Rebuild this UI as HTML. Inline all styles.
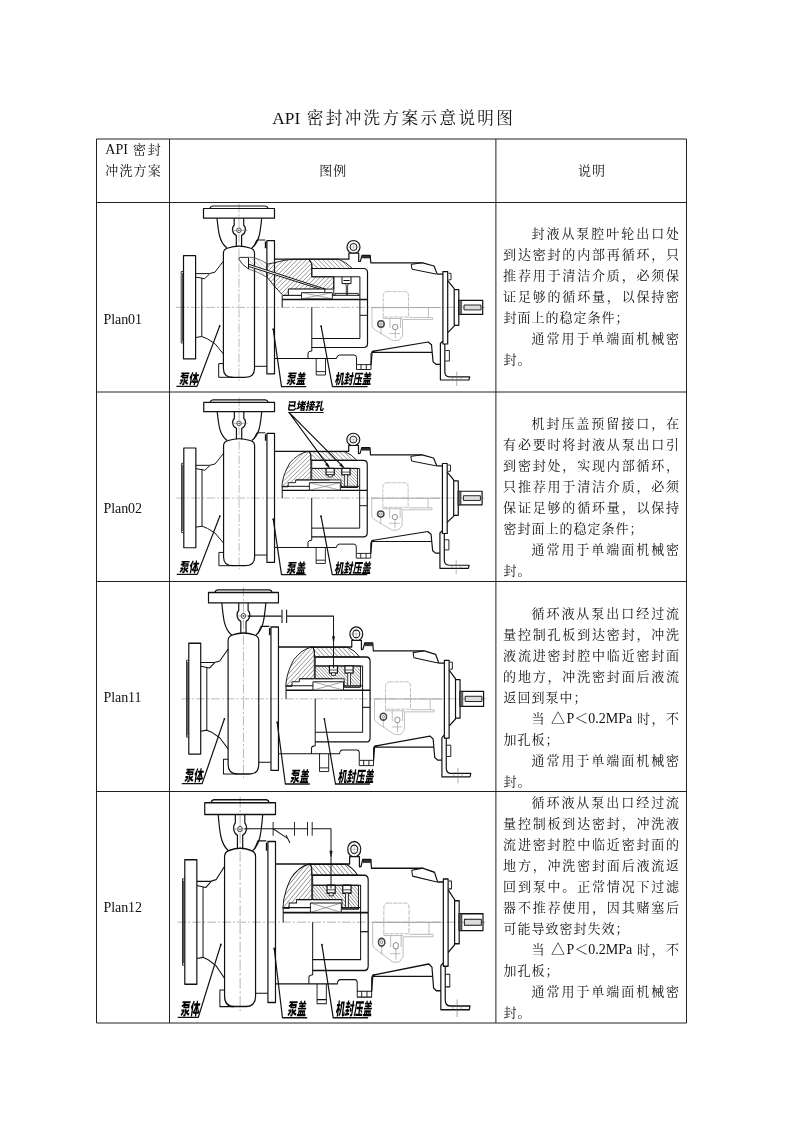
<!DOCTYPE html>
<html lang="zh-CN"><head><meta charset="utf-8"><title>API 密封冲洗方案示意说明图</title>
<style>
html,body{margin:0;padding:0;background:#fff;}
body{width:800px;height:1132px;position:relative;overflow:hidden;font-family:"Liberation Serif","Noto Serif CJK SC",serif;color:#111;}
.l{font-size:14px;}
.t{position:absolute;white-space:nowrap;font-size:13px;line-height:21px;height:21px;font-weight:400;}
.j{text-align:justify;text-align-last:justify;}
.title{position:absolute;left:0;width:800px;text-align:center;font-size:16.6px;line-height:24px;top:107px;white-space:nowrap;}
svg{position:absolute;left:0;top:0;will-change:transform;}
#pg{position:absolute;left:0;top:0;width:800px;height:1132px;will-change:transform;}
.lb{font-family:"Noto Sans CJK SC","WenQuanYi Zen Hei",sans-serif;font-weight:900;font-size:14px;fill:#000;text-rendering:geometricPrecision;}
</style></head>
<body>
<div id="pg">
<div class="title" style="left:272.3px;width:240.6px;text-align-last:justify;"><span style="font-size:17.33px">API</span> 密封冲洗方案示意说明图</div>
<div class="t j" style="left:105.3px;top:139.4px;width:55.5px;"><span class="l">API</span> 密封</div>
<div class="t j" style="left:105.3px;top:160.4px;width:55.5px;">冲洗方案</div>
<div class="t" style="left:319.2px;top:160.4px;letter-spacing:1px;">图例</div>
<div class="t" style="left:578.0px;top:160.4px;letter-spacing:1px;">说明</div>
<div class="t" style="left:103.6px;top:308.7px;letter-spacing:-0.1px;"><span class="l">Plan01</span></div>
<div class="t" style="left:103.6px;top:497.7px;letter-spacing:-0.1px;"><span class="l">Plan02</span></div>
<div class="t" style="left:103.6px;top:687.0px;letter-spacing:-0.1px;"><span class="l">Plan11</span></div>
<div class="t" style="left:103.6px;top:896.8px;letter-spacing:-0.1px;"><span class="l">Plan12</span></div>
<div class="t j" style="left:531.5px;top:223.2px;width:147.6px;">封液从泵腔叶轮出口处</div>
<div class="t j" style="left:503.1px;top:244.2px;width:176.0px;">到达密封的内部再循环，只</div>
<div class="t j" style="left:503.1px;top:265.2px;width:176.0px;">推荐用于清洁介质，必须保</div>
<div class="t j" style="left:503.1px;top:286.2px;width:176.0px;">证足够的循环量，以保持密</div>
<div class="t" style="left:503.4px;top:307.2px;letter-spacing:1px;">封面上的稳定条件；</div>
<div class="t j" style="left:531.5px;top:328.2px;width:147.6px;">通常用于单端面机械密</div>
<div class="t" style="left:503.4px;top:349.2px;letter-spacing:1px;">封。</div>
<div class="t j" style="left:531.5px;top:413.2px;width:147.6px;">机封压盖预留接口，在</div>
<div class="t j" style="left:503.1px;top:434.2px;width:176.0px;">有必要时将封液从泵出口引</div>
<div class="t j" style="left:503.1px;top:455.2px;width:176.0px;">到密封处，实现内部循环，</div>
<div class="t j" style="left:503.1px;top:476.2px;width:176.0px;">只推荐用于清洁介质，必须</div>
<div class="t j" style="left:503.1px;top:497.2px;width:176.0px;">保证足够的循环量，以保持</div>
<div class="t" style="left:503.4px;top:518.2px;letter-spacing:1px;">密封面上的稳定条件；</div>
<div class="t j" style="left:531.5px;top:539.2px;width:147.6px;">通常用于单端面机械密</div>
<div class="t" style="left:503.4px;top:560.2px;letter-spacing:1px;">封。</div>
<div class="t j" style="left:531.5px;top:603.2px;width:147.6px;">循环液从泵出口经过流</div>
<div class="t j" style="left:503.1px;top:624.2px;width:176.0px;">量控制孔板到达密封，冲洗</div>
<div class="t j" style="left:503.1px;top:645.2px;width:176.0px;">液流进密封腔中临近密封面</div>
<div class="t j" style="left:503.1px;top:666.2px;width:176.0px;">的地方，冲洗密封面后液流</div>
<div class="t" style="left:503.4px;top:687.2px;letter-spacing:1px;">返回到泵中；</div>
<div class="t j" style="left:531.5px;top:708.2px;width:147.6px;">当 <span class="l">△P＜0.2MPa</span> 时，不</div>
<div class="t" style="left:503.4px;top:729.2px;letter-spacing:1px;">加孔板；</div>
<div class="t j" style="left:531.5px;top:750.2px;width:147.6px;">通常用于单端面机械密</div>
<div class="t" style="left:503.4px;top:771.2px;letter-spacing:1px;">封。</div>
<div class="t j" style="left:531.5px;top:791.9px;width:147.6px;">循环液从泵出口经过流</div>
<div class="t j" style="left:503.1px;top:812.9px;width:176.0px;">量控制板到达密封，冲洗液</div>
<div class="t j" style="left:503.1px;top:833.9px;width:176.0px;">流进密封腔中临近密封面的</div>
<div class="t j" style="left:503.1px;top:854.9px;width:176.0px;">地方，冲洗密封面后液流返</div>
<div class="t j" style="left:503.1px;top:875.9px;width:176.0px;">回到泵中。正常情况下过滤</div>
<div class="t j" style="left:503.1px;top:896.9px;width:176.0px;">器不推荐使用，因其赌塞后</div>
<div class="t" style="left:503.4px;top:917.9px;letter-spacing:1px;">可能导致密封失效；</div>
<div class="t j" style="left:531.5px;top:938.9px;width:147.6px;">当 <span class="l">△P＜0.2MPa</span> 时，不</div>
<div class="t" style="left:503.4px;top:959.9px;letter-spacing:1px;">加孔板；</div>
<div class="t j" style="left:531.5px;top:980.9px;width:147.6px;">通常用于单端面机械密</div>
<div class="t" style="left:503.4px;top:1001.9px;letter-spacing:1px;">封。</div>
</div>
<svg width="800" height="1132" viewBox="0 0 800 1132">
<path d="M96.50,139.00 H686.50 M96.50,202.50 H686.50 M96.50,392.00 H686.50 M96.50,581.50 H686.50 M96.50,791.50 H686.50 M96.50,1023.00 H686.50 M96.50,139.00 V1023.00 M169.50,139.00 V1023.00 M495.90,139.00 V1023.00 M686.50,139.00 V1023.00" fill="none" stroke="#222" stroke-width="1"/>
<g transform="matrix(1.0000,0,0,1.0000,0.00,0.00)" stroke-linejoin="round" stroke-linecap="butt">
<path d="M176,307.4 H486" fill="none" stroke="#777" stroke-width="0.50" stroke-dasharray="9 2 2 2"/>
<path d="M239,203.5 V381" fill="none" stroke="#777" stroke-width="0.50" stroke-dasharray="9 2 2 2"/>
<path d="M203.5,208.5 H274.5 V218.2 H203.5 Z M209.8,208.5 Q210.4,206.3 212.6,206 H265.4 Q267.6,206.3 268.2,208.5" fill="none" stroke="#111" stroke-width="1.20" />
<path d="M217,218.2 C217.8,226 218.6,232 219.6,236 C221,241.5 223,245 227,248 M261.7,218.2 C260.9,226 260.1,232 259.1,236 C257.7,241.5 255.7,245 251.7,248" fill="none" stroke="#111" stroke-width="1.20" />
<path d="M234.2,218.2 V225.2 C231.6,227.3 231.8,233.5 236.3,235.4 V246.6 M243.7,218.2 V225.2 C246.3,227.3 246.1,233.5 241.6,235.4 V246.6" fill="none" stroke="#111" stroke-width="1.20" />
<circle cx="238.9" cy="230.3" r="2.3" fill="none" stroke="#222" stroke-width="0.8"/><circle cx="238.9" cy="230.3" r="0.6" fill="#222"/>
<path d="M231.5,230.3 H247.5" fill="none" stroke="#666" stroke-width="0.50" />
<path d="M223.4,253.2 V368.5 Q223.4,377.3 233,377.3 H245 Q254.5,377.3 254.5,368.5 V253.2 Q254.5,249.2 250,248 Q239,244.3 228,248 Q223.4,249.2 223.4,253.2 Z" fill="none" stroke="#111" stroke-width="1.20" />
<path d="M183.5,255.7 H195.6 V358.8 H183.5 Z" fill="none" stroke="#111" stroke-width="1.20" />
<path d="M183.5,271.5 H181.2 V343 H183.5 M182.4,273 V341.5" fill="none" stroke="#111" stroke-width="0.80" />
<path d="M195.6,273.6 H209.4 L214.9,272.2 L223.4,261.2 M195.6,277 L204.6,278.7 L209.6,274 M201.8,278.2 V336.5" fill="none" stroke="#111" stroke-width="1.00" />
<path d="M195.6,337.5 L201.8,336.5 L207.3,338.8 L214.9,343.6 L223.4,354" fill="none" stroke="#111" stroke-width="1.00" />
<path d="M223.4,363.6 H218.7 V377.3 H233" fill="none" stroke="#111" stroke-width="1.00" />
<path d="M253.5,246.8 L256.8,240 H265.3 M254.5,366.3 H266.9" fill="none" stroke="#111" stroke-width="1.00" />
<path d="M265.6,241.5 V248.2" fill="none" stroke="#111" stroke-width="1.60" />
<path d="M266.9,240.6 H274.5 V373.9 H266.9 Z" fill="none" stroke="#111" stroke-width="1.20" />
<circle cx="353.5" cy="247" r="6.5" fill="#fff" stroke="#111" stroke-width="1.2"/>
<circle cx="353.5" cy="247" r="3.5" fill="none" stroke="#111" stroke-width="1.0"/>
<path d="M346.5,247 H360.5 M353.5,240 V254" fill="none" stroke="#888" stroke-width="0.40" />
<path d="M348.9,253.1 H358.7 V259 H348.9 Z" fill="#fff" stroke="none" stroke-width="0.00" />
<path d="M274.5,259.2 H348.9 V253.1 H358.7 V261.5 L360.3,261.3 L362,255.4 H370.2 L370.8,262.8 H422.6 L434,266 L437.2,274.1 H442.9" fill="none" stroke="#111" stroke-width="1.20" />
<path d="M362.3,255.6 H370 V258 H362.3 Z" fill="#333" stroke="#111" stroke-width="0.60" />
<path d="M422.6,262.7 L411.2,264.4 L412,269.2 L436.4,274.1" fill="none" stroke="#111" stroke-width="1.00" />
<path d="M442.9,271.7 H447.7 V344 H442.9 Z" fill="none" stroke="#111" stroke-width="1.20" />
<path d="M448.6,273.3 H451 V279.8 H448.6" fill="none" stroke="#111" stroke-width="0.90" />
<path d="M447.7,280.6 L454.2,288.7 V326.1 L447.7,332.6" fill="none" stroke="#111" stroke-width="1.20" />
<path d="M454.2,289.6 H458.8 V325.3 H454.2" fill="none" stroke="#111" stroke-width="1.20" />
<path d="M458.8,300.4 H482.7 V314.4 H458.8 Z" fill="none" stroke="#111" stroke-width="1.20" />
<path d="M458.8,300.4 H461.6 V314.4 H458.8 Z" fill="#666" stroke="#111" stroke-width="0.50" />
<path d="M464,305 H481 V309.9 H464 Z" fill="#ddd" stroke="#111" stroke-width="0.90" />
<path d="M371,365 L372.2,351.3 L428.2,342 L431.5,344.8 L433.1,361.9 L436,364.3 H440.4 M372.2,352.3 H431.8" fill="none" stroke="#111" stroke-width="1.20" />
<path d="M356.5,364.6 H371 V369.5 H356.5 Z M361,364.6 V369.5 M366.3,364.6 V369.5" fill="none" stroke="#111" stroke-width="0.90" />
<path d="M442.9,341 L440.4,343.5 V380 H468.9 L469.7,376.8 H449.6 Q444.8,376.8 444.8,371.5 V344" fill="none" stroke="#111" stroke-width="1.20" />
<path d="M445.3,350.5 H449.4 V361 H445.3" fill="none" stroke="#111" stroke-width="0.90" />
<path d="M456.7,371.5 V386 M452.5,376.8 V380 M460.9,376.8 V380" fill="none" stroke="#666" stroke-width="0.50" />
<path d="M311.8,268.5 H363.5 Q367.5,268.5 367.5,272.5 V343.5 Q367.5,347.5 363.5,347.5 H311.8" fill="none" stroke="#111" stroke-width="1.20" />
<path d="M311.8,276.8 H359.9 V338.5 H311.8" fill="none" stroke="#111" stroke-width="1.00" />
<path d="M311.8,268.5 V276.8 M311.8,307.4 V351 L309,351.6 L308,353 V358.5" fill="none" stroke="#111" stroke-width="1.00" />
<path d="M359.9,315.3 H367.5" fill="none" stroke="#111" stroke-width="1.00" />
<path d="M274.5,358.5 H336.5 Q337,355 339.5,355 H354 Q356.5,355 356.5,357.5 V364.6 M371,364.6 V353.5 Q371.3,351.5 374.5,350.9" fill="none" stroke="#111" stroke-width="1.00" />
<path d="M316.2,358.5 V375 H325.5 V358.5 M316.2,371.6 H325.5" fill="none" stroke="#111" stroke-width="0.90" />
<path d="M282.2,299.5 H367.5" fill="none" stroke="#111" stroke-width="1.40" />
<path d="M282.9,295.3 H359.9 M282.2,295.3 V307.4" fill="none" stroke="#111" stroke-width="1.00" />
<path d="M387.6,291.6 H404.5 Q408.5,291.6 408.5,295.6 V317 H383.2 V295.6 Q383.2,291.6 387.6,291.6 Z" fill="none" stroke="#999" stroke-width="0.60" stroke-dasharray="4 1"/>
<path d="M372,308 V326 Q372.5,328 374.5,329.5 L391.5,340 Q393,340.8 395,340.6 L399,340.2 L402.5,336 V319.5 H432.5 V317.5 H409 M428.5,308 V317.5 M395.3,329 V338.5 M389.5,333.5 H400 M381,326 V334 M383.2,317 V318.5 H402.5 M390,318.5 V328 M400.5,318.5 V328" fill="none" stroke="#999" stroke-width="0.60" />
<path d="M371.5,307.6 H441" fill="none" stroke="#aaa" stroke-width="1.00" />
<circle cx="381" cy="324" r="3.2" fill="none" stroke="#444" stroke-width="1.5"/>
<circle cx="381" cy="324" r="1.2" fill="none" stroke="#555" stroke-width="0.6"/>
<circle cx="395.2" cy="327" r="2.7" fill="none" stroke="#666" stroke-width="0.7"/>
<path d="M219.7,326 L197,386.3 H176.4 M273.2,329.2 L281.5,386.6 H306.3 M321.1,326.2 L332.4,386.6 H367.5" fill="none" stroke="#111" stroke-width="1.20" />
<circle cx="219.7" cy="326" r="0.9" fill="#111"/><circle cx="273.2" cy="329.2" r="0.9" fill="#111"/><circle cx="321.1" cy="326.2" r="0.9" fill="#111"/>
<text class="lb" transform="translate(179,384.2) skewX(-9)" textLength="18.8" lengthAdjust="spacingAndGlyphs">泵体</text>
<text class="lb" transform="translate(286.3,384.4) skewX(-9)" textLength="18.8" lengthAdjust="spacingAndGlyphs">泵盖</text>
<text class="lb" transform="translate(334.4,384.4) skewX(-9)" textLength="36.6" lengthAdjust="spacingAndGlyphs">机封压盖</text>
<clipPath id="hz0"><path d="M248.5,257.2 L254,257.6 Q261,259.6 266.9,263.6 V277.3 Q258,271.6 248.5,269 Z"/></clipPath>
<path d="M222.0,255.0 L246.0,279.0 M226.4,255.0 L250.4,279.0 M230.8,255.0 L254.8,279.0 M235.2,255.0 L259.2,279.0 M239.6,255.0 L263.6,279.0 M244.0,255.0 L268.0,279.0 M248.4,255.0 L272.4,279.0 M252.8,255.0 L276.8,279.0 M257.2,255.0 L281.2,279.0 M261.6,255.0 L285.6,279.0 M266.0,255.0 L290.0,279.0 M270.4,255.0 L294.4,279.0 M274.8,255.0 L298.8,279.0 M279.2,255.0 L303.2,279.0 M283.6,255.0 L307.6,279.0 M288.0,255.0 L312.0,279.0" fill="none" stroke="#777" stroke-width="0.45" clip-path="url(#hz0)"/>
<path d="M248.5,257.2 L254,257.6 Q261,259.6 266.9,263.6 V277.3 Q258,271.6 248.5,269 Z" fill="none" stroke="#444" stroke-width="0.70" />
<path d="M248.5,257.4 H240.2 Q238,257.6 239.2,259.6 Q242,265 248.5,269" fill="none" stroke="#111" stroke-width="0.90" />
<clipPath id="ha0"><path d="M266.9,264.2 Q276,262.6 282,260.8 Q288,259.5 294,259.3 H309 L311.8,264 V276.8 H333.8 V289.1 H288.4 V295.5 H283 Q275.5,288 266.9,277 Z"/></clipPath>
<path d="M224.0,297.0 L264.0,257.0 M228.5,297.0 L268.5,257.0 M233.0,297.0 L273.0,257.0 M237.5,297.0 L277.5,257.0 M242.0,297.0 L282.0,257.0 M246.5,297.0 L286.5,257.0 M251.0,297.0 L291.0,257.0 M255.5,297.0 L295.5,257.0 M260.0,297.0 L300.0,257.0 M264.5,297.0 L304.5,257.0 M269.0,297.0 L309.0,257.0 M273.5,297.0 L313.5,257.0 M278.0,297.0 L318.0,257.0 M282.5,297.0 L322.5,257.0 M287.0,297.0 L327.0,257.0 M291.5,297.0 L331.5,257.0 M296.0,297.0 L336.0,257.0 M300.5,297.0 L340.5,257.0 M305.0,297.0 L345.0,257.0 M309.5,297.0 L349.5,257.0 M314.0,297.0 L354.0,257.0 M318.5,297.0 L358.5,257.0 M323.0,297.0 L363.0,257.0 M327.5,297.0 L367.5,257.0 M332.0,297.0 L372.0,257.0 M336.5,297.0 L376.5,257.0 M341.0,297.0 L381.0,257.0 M345.5,297.0 L385.5,257.0 M350.0,297.0 L390.0,257.0 M354.5,297.0 L394.5,257.0 M359.0,297.0 L399.0,257.0 M363.5,297.0 L403.5,257.0 M368.0,297.0 L408.0,257.0 M372.5,297.0 L412.5,257.0" fill="none" stroke="#444" stroke-width="0.55" clip-path="url(#ha0)"/>
<path d="M266.9,264.2 Q276,262.6 282,260.8 Q288,259.5 294,259.3 H309 L311.8,264 V276.8 H333.8 V289.1 H288.4 V295.5 H283 Q275.5,288 266.9,277 Z" fill="none" stroke="#111" stroke-width="0.90" />
<clipPath id="hb0"><path d="M309,259.2 H338.5 Q346,262 352.5,268.5 H311.8 V264 Z"/></clipPath>
<path d="M294.0,258.0 L306.0,270.0 M298.5,258.0 L310.5,270.0 M303.0,258.0 L315.0,270.0 M307.5,258.0 L319.5,270.0 M312.0,258.0 L324.0,270.0 M316.5,258.0 L328.5,270.0 M321.0,258.0 L333.0,270.0 M325.5,258.0 L337.5,270.0 M330.0,258.0 L342.0,270.0 M334.5,258.0 L346.5,270.0 M339.0,258.0 L351.0,270.0 M343.5,258.0 L355.5,270.0 M348.0,258.0 L360.0,270.0 M352.5,258.0 L364.5,270.0 M357.0,258.0 L369.0,270.0 M361.5,258.0 L373.5,270.0" fill="none" stroke="#444" stroke-width="0.55" clip-path="url(#hb0)"/>
<path d="M309,259.2 H338.5 Q346,262 352.5,268.5 H311.8 V264 Z" fill="none" stroke="#111" stroke-width="0.90" />
<path d="M248.5,264.2 L325.5,289.2 L320.5,289.2 L248.5,266.4 Z" fill="#fff" stroke="#111" stroke-width="1.00" />
<path d="M248.5,258 V269" fill="none" stroke="#111" stroke-width="1.00" />
<path d="M288.4,289.1 H324.8 V295.3 H288.4 Z" fill="#fff" stroke="#111" stroke-width="0.90" />
<path d="M301.5,292.6 H332.4 V298.8 H301.5 Z" fill="#fff" stroke="#111" stroke-width="0.90" />
<path d="M301.5,292.6 L332.4,298.8 M301.5,298.8 L332.4,292.6" fill="none" stroke="#555" stroke-width="0.50" />
<path d="M333.8,276.8 V295.3 M335,295.3 V293.4 H358.3 V295.3" fill="none" stroke="#111" stroke-width="0.90" />
<path d="M342,276.8 V283.6 H351 V276.8 M343.4,280.5 H349.6" fill="none" stroke="#111" stroke-width="1.00" />
<path d="M345.5,283.6 L346.3,286 V295.3 M348.3,283.6 L347.6,286 V295.3" fill="none" stroke="#111" stroke-width="0.80" />
</g>
<g transform="matrix(0.9970,0,0,0.9680,0.85,200.47)" stroke-linejoin="round" stroke-linecap="butt">
<path d="M176,307.4 H486" fill="none" stroke="#777" stroke-width="0.50" stroke-dasharray="9 2 2 2"/>
<path d="M239,203.5 V381" fill="none" stroke="#777" stroke-width="0.50" stroke-dasharray="9 2 2 2"/>
<path d="M203.5,208.5 H274.5 V218.2 H203.5 Z M209.8,208.5 Q210.4,206.3 212.6,206 H265.4 Q267.6,206.3 268.2,208.5" fill="none" stroke="#111" stroke-width="1.20" />
<path d="M217,218.2 C217.8,226 218.6,232 219.6,236 C221,241.5 223,245 227,248 M261.7,218.2 C260.9,226 260.1,232 259.1,236 C257.7,241.5 255.7,245 251.7,248" fill="none" stroke="#111" stroke-width="1.20" />
<path d="M234.2,218.2 V225.2 C231.6,227.3 231.8,233.5 236.3,235.4 V246.6 M243.7,218.2 V225.2 C246.3,227.3 246.1,233.5 241.6,235.4 V246.6" fill="none" stroke="#111" stroke-width="1.20" />
<circle cx="238.9" cy="230.3" r="2.3" fill="none" stroke="#222" stroke-width="0.8"/><circle cx="238.9" cy="230.3" r="0.6" fill="#222"/>
<path d="M231.5,230.3 H247.5" fill="none" stroke="#666" stroke-width="0.50" />
<path d="M223.4,253.2 V368.5 Q223.4,377.3 233,377.3 H245 Q254.5,377.3 254.5,368.5 V253.2 Q254.5,249.2 250,248 Q239,244.3 228,248 Q223.4,249.2 223.4,253.2 Z" fill="none" stroke="#111" stroke-width="1.20" />
<path d="M183.5,255.7 H195.6 V358.8 H183.5 Z" fill="none" stroke="#111" stroke-width="1.20" />
<path d="M183.5,271.5 H181.2 V343 H183.5 M182.4,273 V341.5" fill="none" stroke="#111" stroke-width="0.80" />
<path d="M195.6,273.6 H209.4 L214.9,272.2 L223.4,261.2 M195.6,277 L204.6,278.7 L209.6,274 M201.8,278.2 V336.5" fill="none" stroke="#111" stroke-width="1.00" />
<path d="M195.6,337.5 L201.8,336.5 L207.3,338.8 L214.9,343.6 L223.4,354" fill="none" stroke="#111" stroke-width="1.00" />
<path d="M223.4,363.6 H218.7 V377.3 H233" fill="none" stroke="#111" stroke-width="1.00" />
<path d="M253.5,246.8 L256.8,240 H265.3 M254.5,366.3 H266.9" fill="none" stroke="#111" stroke-width="1.00" />
<path d="M265.6,241.5 V248.2" fill="none" stroke="#111" stroke-width="1.60" />
<path d="M266.9,240.6 H274.5 V373.9 H266.9 Z" fill="none" stroke="#111" stroke-width="1.20" />
<circle cx="353.5" cy="247" r="6.5" fill="#fff" stroke="#111" stroke-width="1.2"/>
<circle cx="353.5" cy="247" r="3.5" fill="none" stroke="#111" stroke-width="1.0"/>
<path d="M346.5,247 H360.5 M353.5,240 V254" fill="none" stroke="#888" stroke-width="0.40" />
<path d="M348.9,253.1 H358.7 V259 H348.9 Z" fill="#fff" stroke="none" stroke-width="0.00" />
<path d="M274.5,259.2 H348.9 V253.1 H358.7 V261.5 L360.3,261.3 L362,255.4 H370.2 L370.8,262.8 H422.6 L434,266 L437.2,274.1 H442.9" fill="none" stroke="#111" stroke-width="1.20" />
<path d="M362.3,255.6 H370 V258 H362.3 Z" fill="#333" stroke="#111" stroke-width="0.60" />
<path d="M422.6,262.7 L411.2,264.4 L412,269.2 L436.4,274.1" fill="none" stroke="#111" stroke-width="1.00" />
<path d="M442.9,271.7 H447.7 V344 H442.9 Z" fill="none" stroke="#111" stroke-width="1.20" />
<path d="M448.6,273.3 H451 V279.8 H448.6" fill="none" stroke="#111" stroke-width="0.90" />
<path d="M447.7,280.6 L454.2,288.7 V326.1 L447.7,332.6" fill="none" stroke="#111" stroke-width="1.20" />
<path d="M454.2,289.6 H458.8 V325.3 H454.2" fill="none" stroke="#111" stroke-width="1.20" />
<path d="M458.8,300.4 H482.7 V314.4 H458.8 Z" fill="none" stroke="#111" stroke-width="1.20" />
<path d="M458.8,300.4 H461.6 V314.4 H458.8 Z" fill="#666" stroke="#111" stroke-width="0.50" />
<path d="M464,305 H481 V309.9 H464 Z" fill="#ddd" stroke="#111" stroke-width="0.90" />
<path d="M371,365 L372.2,351.3 L428.2,342 L431.5,344.8 L433.1,361.9 L436,364.3 H440.4 M372.2,352.3 H431.8" fill="none" stroke="#111" stroke-width="1.20" />
<path d="M356.5,364.6 H371 V369.5 H356.5 Z M361,364.6 V369.5 M366.3,364.6 V369.5" fill="none" stroke="#111" stroke-width="0.90" />
<path d="M442.9,341 L440.4,343.5 V380 H468.9 L469.7,376.8 H449.6 Q444.8,376.8 444.8,371.5 V344" fill="none" stroke="#111" stroke-width="1.20" />
<path d="M445.3,350.5 H449.4 V361 H445.3" fill="none" stroke="#111" stroke-width="0.90" />
<path d="M456.7,371.5 V386 M452.5,376.8 V380 M460.9,376.8 V380" fill="none" stroke="#666" stroke-width="0.50" />
<path d="M311.8,268.5 H363.5 Q367.5,268.5 367.5,272.5 V343.5 Q367.5,347.5 363.5,347.5 H311.8" fill="none" stroke="#111" stroke-width="1.20" />
<path d="M311.8,276.8 H359.9 V338.5 H311.8" fill="none" stroke="#111" stroke-width="1.00" />
<path d="M311.8,268.5 V276.8 M311.8,307.4 V351 L309,351.6 L308,353 V358.5" fill="none" stroke="#111" stroke-width="1.00" />
<path d="M359.9,315.3 H367.5" fill="none" stroke="#111" stroke-width="1.00" />
<path d="M274.5,358.5 H336.5 Q337,355 339.5,355 H354 Q356.5,355 356.5,357.5 V364.6 M371,364.6 V353.5 Q371.3,351.5 374.5,350.9" fill="none" stroke="#111" stroke-width="1.00" />
<path d="M316.2,358.5 V375 H325.5 V358.5 M316.2,371.6 H325.5" fill="none" stroke="#111" stroke-width="0.90" />
<path d="M282.2,299.5 H367.5" fill="none" stroke="#111" stroke-width="1.40" />
<path d="M282.9,295.3 H359.9 M282.2,295.3 V307.4" fill="none" stroke="#111" stroke-width="1.00" />
<path d="M387.6,291.6 H404.5 Q408.5,291.6 408.5,295.6 V317 H383.2 V295.6 Q383.2,291.6 387.6,291.6 Z" fill="none" stroke="#999" stroke-width="0.60" stroke-dasharray="4 1"/>
<path d="M372,308 V326 Q372.5,328 374.5,329.5 L391.5,340 Q393,340.8 395,340.6 L399,340.2 L402.5,336 V319.5 H432.5 V317.5 H409 M428.5,308 V317.5 M395.3,329 V338.5 M389.5,333.5 H400 M381,326 V334 M383.2,317 V318.5 H402.5 M390,318.5 V328 M400.5,318.5 V328" fill="none" stroke="#999" stroke-width="0.60" />
<path d="M371.5,307.6 H441" fill="none" stroke="#aaa" stroke-width="1.00" />
<circle cx="381" cy="324" r="3.2" fill="none" stroke="#444" stroke-width="1.5"/>
<circle cx="381" cy="324" r="1.2" fill="none" stroke="#555" stroke-width="0.6"/>
<circle cx="395.2" cy="327" r="2.7" fill="none" stroke="#666" stroke-width="0.7"/>
<path d="M219.7,326 L197,386.3 H176.4 M273.2,329.2 L281.5,386.6 H306.3 M321.1,326.2 L332.4,386.6 H367.5" fill="none" stroke="#111" stroke-width="1.20" />
<circle cx="219.7" cy="326" r="0.9" fill="#111"/><circle cx="273.2" cy="329.2" r="0.9" fill="#111"/><circle cx="321.1" cy="326.2" r="0.9" fill="#111"/>
<text class="lb" transform="translate(179,384.2) skewX(-9)" textLength="18.8" lengthAdjust="spacingAndGlyphs">泵体</text>
<text class="lb" transform="translate(286.3,384.4) skewX(-9)" textLength="18.8" lengthAdjust="spacingAndGlyphs">泵盖</text>
<text class="lb" transform="translate(334.4,384.4) skewX(-9)" textLength="36.6" lengthAdjust="spacingAndGlyphs">机封压盖</text>
<clipPath id="hc1"><path d="M281.9,295.8 Q282.3,284 290,271 Q298,261.5 307.3,259.5 L309.5,259.2 L310.9,263 V288.7 H295.7 V291.5 H288.2 V295.8 Z"/></clipPath>
<path d="M241.0,297.0 L280.0,258.0 M245.4,297.0 L284.4,258.0 M249.8,297.0 L288.8,258.0 M254.2,297.0 L293.2,258.0 M258.6,297.0 L297.6,258.0 M263.0,297.0 L302.0,258.0 M267.4,297.0 L306.4,258.0 M271.8,297.0 L310.8,258.0 M276.2,297.0 L315.2,258.0 M280.6,297.0 L319.6,258.0 M285.0,297.0 L324.0,258.0 M289.4,297.0 L328.4,258.0 M293.8,297.0 L332.8,258.0 M298.2,297.0 L337.2,258.0 M302.6,297.0 L341.6,258.0 M307.0,297.0 L346.0,258.0 M311.4,297.0 L350.4,258.0 M315.8,297.0 L354.8,258.0 M320.2,297.0 L359.2,258.0 M324.6,297.0 L363.6,258.0 M329.0,297.0 L368.0,258.0 M333.4,297.0 L372.4,258.0 M337.8,297.0 L376.8,258.0 M342.2,297.0 L381.2,258.0 M346.6,297.0 L385.6,258.0 M351.0,297.0 L390.0,258.0" fill="none" stroke="#444" stroke-width="0.55" clip-path="url(#hc1)"/>
<path d="M281.9,295.8 Q282.3,284 290,271 Q298,261.5 307.3,259.5 L309.5,259.2 L310.9,263 V288.7 H295.7 V291.5 H288.2 V295.8 Z" fill="none" stroke="#111" stroke-width="0.90" />
<clipPath id="hd1"><path d="M307.3,259.5 H345 Q351.5,262 357,268.4 H310.9 V263 L309.5,259.2 Z"/></clipPath>
<path d="M294.0,258.0 L306.0,270.0 M298.4,258.0 L310.4,270.0 M302.8,258.0 L314.8,270.0 M307.2,258.0 L319.2,270.0 M311.6,258.0 L323.6,270.0 M316.0,258.0 L328.0,270.0 M320.4,258.0 L332.4,270.0 M324.8,258.0 L336.8,270.0 M329.2,258.0 L341.2,270.0 M333.6,258.0 L345.6,270.0 M338.0,258.0 L350.0,270.0 M342.4,258.0 L354.4,270.0 M346.8,258.0 L358.8,270.0 M351.2,258.0 L363.2,270.0 M355.6,258.0 L367.6,270.0 M360.0,258.0 L372.0,270.0 M364.4,258.0 L376.4,270.0 M368.8,258.0 L380.8,270.0" fill="none" stroke="#444" stroke-width="0.55" clip-path="url(#hd1)"/>
<path d="M307.3,259.5 H345 Q351.5,262 357,268.4 H310.9 V263 L309.5,259.2 Z" fill="none" stroke="#111" stroke-width="0.90" />
<clipPath id="he1"><path d="M311.8,276.8 H357.8 V296.5 H341.2 V288.7 H311.8 Z"/></clipPath>
<path d="M288.0,276.0 L310.0,298.0 M291.2,276.0 L313.2,298.0 M294.4,276.0 L316.4,298.0 M297.6,276.0 L319.6,298.0 M300.8,276.0 L322.8,298.0 M304.0,276.0 L326.0,298.0 M307.2,276.0 L329.2,298.0 M310.4,276.0 L332.4,298.0 M313.6,276.0 L335.6,298.0 M316.8,276.0 L338.8,298.0 M320.0,276.0 L342.0,298.0 M323.2,276.0 L345.2,298.0 M326.4,276.0 L348.4,298.0 M329.6,276.0 L351.6,298.0 M332.8,276.0 L354.8,298.0 M336.0,276.0 L358.0,298.0 M339.2,276.0 L361.2,298.0 M342.4,276.0 L364.4,298.0 M345.6,276.0 L367.6,298.0 M348.8,276.0 L370.8,298.0 M352.0,276.0 L374.0,298.0 M355.2,276.0 L377.2,298.0 M358.4,276.0 L380.4,298.0 M361.6,276.0 L383.6,298.0 M364.8,276.0 L386.8,298.0 M368.0,276.0 L390.0,298.0 M371.2,276.0 L393.2,298.0 M374.4,276.0 L396.4,298.0 M377.6,276.0 L399.6,298.0 M380.8,276.0 L402.8,298.0" fill="none" stroke="#444" stroke-width="0.55" clip-path="url(#he1)"/>
<path d="M311.8,276.8 H357.8 V296.5 H341.2 V288.7 H311.8 Z" fill="none" stroke="#111" stroke-width="0.90" />
<path d="M326.2,276.8 H334.4 V283.4 H326.2 Z M342,276.8 H350.3 V283.4 H342 Z" fill="#fff" stroke="#111" stroke-width="1.20" />
<path d="M328.3,283.2 H332.4 V285.6 H328.3 Z M344.8,283.2 H347.6 V295.3 H344.8 Z" fill="#fff" stroke="#111" stroke-width="0.80" />
<path d="M326.2,280.6 H334.4 M342,280.6 H350.3" fill="none" stroke="#111" stroke-width="0.70" />
<path d="M309.5,291.5 H340.5 V299.3 H309.5 Z" fill="#fff" stroke="#111" stroke-width="0.90" />
<path d="M309.5,291.5 L340.5,299.3 M309.5,299.3 L340.5,291.5" fill="none" stroke="#555" stroke-width="0.50" />
<path d="M295.7,288.7 H330 M341.2,296.5 H357.8" fill="none" stroke="#111" stroke-width="0.80" />
<text class="lb" style="font-size:11.3px" transform="translate(286.8,216.6) skewX(-9)" textLength="37" lengthAdjust="spacingAndGlyphs">已堵接孔</text>
<path d="M288.2,219 H323.7" fill="none" stroke="#111" stroke-width="1.20" />
<path d="M289,219 L329.2,275.5 M289,219 L343.6,275.5" fill="none" stroke="#111" stroke-width="1.20" />
<path d="M329.6,276 l-4,-3 l2,-1.5 z M344,276 l-4.3,-2.4 l1.8,-1.8 z" fill="#111" stroke="#111" stroke-width="0.50" />
</g>
<g transform="matrix(0.9853,0,0,1.0753,7.99,368.30)" stroke-linejoin="round" stroke-linecap="butt">
<path d="M176,307.4 H486" fill="none" stroke="#777" stroke-width="0.50" stroke-dasharray="9 2 2 2"/>
<path d="M239,203.5 V381" fill="none" stroke="#777" stroke-width="0.50" stroke-dasharray="9 2 2 2"/>
<path d="M203.5,208.5 H274.5 V218.2 H203.5 Z M209.8,208.5 Q210.4,206.3 212.6,206 H265.4 Q267.6,206.3 268.2,208.5" fill="none" stroke="#111" stroke-width="1.20" />
<path d="M217,218.2 C217.8,226 218.6,232 219.6,236 C221,241.5 223,245 227,248 M261.7,218.2 C260.9,226 260.1,232 259.1,236 C257.7,241.5 255.7,245 251.7,248" fill="none" stroke="#111" stroke-width="1.20" />
<path d="M234.2,218.2 V225.2 C231.6,227.3 231.8,233.5 236.3,235.4 V246.6 M243.7,218.2 V225.2 C246.3,227.3 246.1,233.5 241.6,235.4 V246.6" fill="none" stroke="#111" stroke-width="1.20" />
<circle cx="238.9" cy="230.3" r="2.3" fill="none" stroke="#222" stroke-width="0.8"/><circle cx="238.9" cy="230.3" r="0.6" fill="#222"/>
<path d="M231.5,230.3 H247.5" fill="none" stroke="#666" stroke-width="0.50" />
<path d="M223.4,253.2 V368.5 Q223.4,377.3 233,377.3 H245 Q254.5,377.3 254.5,368.5 V253.2 Q254.5,249.2 250,248 Q239,244.3 228,248 Q223.4,249.2 223.4,253.2 Z" fill="none" stroke="#111" stroke-width="1.20" />
<path d="M183.5,255.7 H195.6 V358.8 H183.5 Z" fill="none" stroke="#111" stroke-width="1.20" />
<path d="M183.5,271.5 H181.2 V343 H183.5 M182.4,273 V341.5" fill="none" stroke="#111" stroke-width="0.80" />
<path d="M195.6,273.6 H209.4 L214.9,272.2 L223.4,261.2 M195.6,277 L204.6,278.7 L209.6,274 M201.8,278.2 V336.5" fill="none" stroke="#111" stroke-width="1.00" />
<path d="M195.6,337.5 L201.8,336.5 L207.3,338.8 L214.9,343.6 L223.4,354" fill="none" stroke="#111" stroke-width="1.00" />
<path d="M223.4,363.6 H218.7 V377.3 H233" fill="none" stroke="#111" stroke-width="1.00" />
<path d="M253.5,246.8 L256.8,240 H265.3 M254.5,366.3 H266.9" fill="none" stroke="#111" stroke-width="1.00" />
<path d="M265.6,241.5 V248.2" fill="none" stroke="#111" stroke-width="1.60" />
<path d="M266.9,240.6 H274.5 V373.9 H266.9 Z" fill="none" stroke="#111" stroke-width="1.20" />
<circle cx="353.5" cy="247" r="6.5" fill="#fff" stroke="#111" stroke-width="1.2"/>
<circle cx="353.5" cy="247" r="3.5" fill="none" stroke="#111" stroke-width="1.0"/>
<path d="M346.5,247 H360.5 M353.5,240 V254" fill="none" stroke="#888" stroke-width="0.40" />
<path d="M348.9,253.1 H358.7 V259 H348.9 Z" fill="#fff" stroke="none" stroke-width="0.00" />
<path d="M274.5,259.2 H348.9 V253.1 H358.7 V261.5 L360.3,261.3 L362,255.4 H370.2 L370.8,262.8 H422.6 L434,266 L437.2,274.1 H442.9" fill="none" stroke="#111" stroke-width="1.20" />
<path d="M362.3,255.6 H370 V258 H362.3 Z" fill="#333" stroke="#111" stroke-width="0.60" />
<path d="M422.6,262.7 L411.2,264.4 L412,269.2 L436.4,274.1" fill="none" stroke="#111" stroke-width="1.00" />
<path d="M442.9,271.7 H447.7 V344 H442.9 Z" fill="none" stroke="#111" stroke-width="1.20" />
<path d="M448.6,273.3 H451 V279.8 H448.6" fill="none" stroke="#111" stroke-width="0.90" />
<path d="M447.7,280.6 L454.2,288.7 V326.1 L447.7,332.6" fill="none" stroke="#111" stroke-width="1.20" />
<path d="M454.2,289.6 H458.8 V325.3 H454.2" fill="none" stroke="#111" stroke-width="1.20" />
<path d="M458.8,300.4 H482.7 V314.4 H458.8 Z" fill="none" stroke="#111" stroke-width="1.20" />
<path d="M458.8,300.4 H461.6 V314.4 H458.8 Z" fill="#666" stroke="#111" stroke-width="0.50" />
<path d="M464,305 H481 V309.9 H464 Z" fill="#ddd" stroke="#111" stroke-width="0.90" />
<path d="M371,365 L372.2,351.3 L428.2,342 L431.5,344.8 L433.1,361.9 L436,364.3 H440.4 M372.2,352.3 H431.8" fill="none" stroke="#111" stroke-width="1.20" />
<path d="M356.5,364.6 H371 V369.5 H356.5 Z M361,364.6 V369.5 M366.3,364.6 V369.5" fill="none" stroke="#111" stroke-width="0.90" />
<path d="M442.9,341 L440.4,343.5 V380 H468.9 L469.7,376.8 H449.6 Q444.8,376.8 444.8,371.5 V344" fill="none" stroke="#111" stroke-width="1.20" />
<path d="M445.3,350.5 H449.4 V361 H445.3" fill="none" stroke="#111" stroke-width="0.90" />
<path d="M456.7,371.5 V386 M452.5,376.8 V380 M460.9,376.8 V380" fill="none" stroke="#666" stroke-width="0.50" />
<path d="M311.8,268.5 H363.5 Q367.5,268.5 367.5,272.5 V343.5 Q367.5,347.5 363.5,347.5 H311.8" fill="none" stroke="#111" stroke-width="1.20" />
<path d="M311.8,276.8 H359.9 V338.5 H311.8" fill="none" stroke="#111" stroke-width="1.00" />
<path d="M311.8,268.5 V276.8 M311.8,307.4 V351 L309,351.6 L308,353 V358.5" fill="none" stroke="#111" stroke-width="1.00" />
<path d="M359.9,315.3 H367.5" fill="none" stroke="#111" stroke-width="1.00" />
<path d="M274.5,358.5 H336.5 Q337,355 339.5,355 H354 Q356.5,355 356.5,357.5 V364.6 M371,364.6 V353.5 Q371.3,351.5 374.5,350.9" fill="none" stroke="#111" stroke-width="1.00" />
<path d="M316.2,358.5 V375 H325.5 V358.5 M316.2,371.6 H325.5" fill="none" stroke="#111" stroke-width="0.90" />
<path d="M282.2,299.5 H367.5" fill="none" stroke="#111" stroke-width="1.40" />
<path d="M282.9,295.3 H359.9 M282.2,295.3 V307.4" fill="none" stroke="#111" stroke-width="1.00" />
<path d="M387.6,291.6 H404.5 Q408.5,291.6 408.5,295.6 V317 H383.2 V295.6 Q383.2,291.6 387.6,291.6 Z" fill="none" stroke="#999" stroke-width="0.60" stroke-dasharray="4 1"/>
<path d="M372,308 V326 Q372.5,328 374.5,329.5 L391.5,340 Q393,340.8 395,340.6 L399,340.2 L402.5,336 V319.5 H432.5 V317.5 H409 M428.5,308 V317.5 M395.3,329 V338.5 M389.5,333.5 H400 M381,326 V334 M383.2,317 V318.5 H402.5 M390,318.5 V328 M400.5,318.5 V328" fill="none" stroke="#999" stroke-width="0.60" />
<path d="M371.5,307.6 H441" fill="none" stroke="#aaa" stroke-width="1.00" />
<circle cx="381" cy="324" r="3.2" fill="none" stroke="#444" stroke-width="1.5"/>
<circle cx="381" cy="324" r="1.2" fill="none" stroke="#555" stroke-width="0.6"/>
<circle cx="395.2" cy="327" r="2.7" fill="none" stroke="#666" stroke-width="0.7"/>
<path d="M219.7,326 L197,386.3 H176.4 M273.2,329.2 L281.5,386.6 H306.3 M321.1,326.2 L332.4,386.6 H367.5" fill="none" stroke="#111" stroke-width="1.20" />
<circle cx="219.7" cy="326" r="0.9" fill="#111"/><circle cx="273.2" cy="329.2" r="0.9" fill="#111"/><circle cx="321.1" cy="326.2" r="0.9" fill="#111"/>
<text class="lb" transform="translate(179,384.2) skewX(-9)" textLength="18.8" lengthAdjust="spacingAndGlyphs">泵体</text>
<text class="lb" transform="translate(286.3,384.4) skewX(-9)" textLength="18.8" lengthAdjust="spacingAndGlyphs">泵盖</text>
<text class="lb" transform="translate(334.4,384.4) skewX(-9)" textLength="36.6" lengthAdjust="spacingAndGlyphs">机封压盖</text>
<clipPath id="hc2"><path d="M281.9,295.8 Q282.3,284 290,271 Q298,261.5 307.3,259.5 L309.5,259.2 L310.9,263 V288.7 H295.7 V291.5 H288.2 V295.8 Z"/></clipPath>
<path d="M241.0,297.0 L280.0,258.0 M245.4,297.0 L284.4,258.0 M249.8,297.0 L288.8,258.0 M254.2,297.0 L293.2,258.0 M258.6,297.0 L297.6,258.0 M263.0,297.0 L302.0,258.0 M267.4,297.0 L306.4,258.0 M271.8,297.0 L310.8,258.0 M276.2,297.0 L315.2,258.0 M280.6,297.0 L319.6,258.0 M285.0,297.0 L324.0,258.0 M289.4,297.0 L328.4,258.0 M293.8,297.0 L332.8,258.0 M298.2,297.0 L337.2,258.0 M302.6,297.0 L341.6,258.0 M307.0,297.0 L346.0,258.0 M311.4,297.0 L350.4,258.0 M315.8,297.0 L354.8,258.0 M320.2,297.0 L359.2,258.0 M324.6,297.0 L363.6,258.0 M329.0,297.0 L368.0,258.0 M333.4,297.0 L372.4,258.0 M337.8,297.0 L376.8,258.0 M342.2,297.0 L381.2,258.0 M346.6,297.0 L385.6,258.0 M351.0,297.0 L390.0,258.0" fill="none" stroke="#444" stroke-width="0.55" clip-path="url(#hc2)"/>
<path d="M281.9,295.8 Q282.3,284 290,271 Q298,261.5 307.3,259.5 L309.5,259.2 L310.9,263 V288.7 H295.7 V291.5 H288.2 V295.8 Z" fill="none" stroke="#111" stroke-width="0.90" />
<clipPath id="hd2"><path d="M307.3,259.5 H345 Q351.5,262 357,268.4 H310.9 V263 L309.5,259.2 Z"/></clipPath>
<path d="M294.0,258.0 L306.0,270.0 M298.4,258.0 L310.4,270.0 M302.8,258.0 L314.8,270.0 M307.2,258.0 L319.2,270.0 M311.6,258.0 L323.6,270.0 M316.0,258.0 L328.0,270.0 M320.4,258.0 L332.4,270.0 M324.8,258.0 L336.8,270.0 M329.2,258.0 L341.2,270.0 M333.6,258.0 L345.6,270.0 M338.0,258.0 L350.0,270.0 M342.4,258.0 L354.4,270.0 M346.8,258.0 L358.8,270.0 M351.2,258.0 L363.2,270.0 M355.6,258.0 L367.6,270.0 M360.0,258.0 L372.0,270.0 M364.4,258.0 L376.4,270.0 M368.8,258.0 L380.8,270.0" fill="none" stroke="#444" stroke-width="0.55" clip-path="url(#hd2)"/>
<path d="M307.3,259.5 H345 Q351.5,262 357,268.4 H310.9 V263 L309.5,259.2 Z" fill="none" stroke="#111" stroke-width="0.90" />
<clipPath id="he2"><path d="M311.8,276.8 H357.8 V296.5 H341.2 V288.7 H311.8 Z"/></clipPath>
<path d="M288.0,276.0 L310.0,298.0 M291.2,276.0 L313.2,298.0 M294.4,276.0 L316.4,298.0 M297.6,276.0 L319.6,298.0 M300.8,276.0 L322.8,298.0 M304.0,276.0 L326.0,298.0 M307.2,276.0 L329.2,298.0 M310.4,276.0 L332.4,298.0 M313.6,276.0 L335.6,298.0 M316.8,276.0 L338.8,298.0 M320.0,276.0 L342.0,298.0 M323.2,276.0 L345.2,298.0 M326.4,276.0 L348.4,298.0 M329.6,276.0 L351.6,298.0 M332.8,276.0 L354.8,298.0 M336.0,276.0 L358.0,298.0 M339.2,276.0 L361.2,298.0 M342.4,276.0 L364.4,298.0 M345.6,276.0 L367.6,298.0 M348.8,276.0 L370.8,298.0 M352.0,276.0 L374.0,298.0 M355.2,276.0 L377.2,298.0 M358.4,276.0 L380.4,298.0 M361.6,276.0 L383.6,298.0 M364.8,276.0 L386.8,298.0 M368.0,276.0 L390.0,298.0 M371.2,276.0 L393.2,298.0 M374.4,276.0 L396.4,298.0 M377.6,276.0 L399.6,298.0 M380.8,276.0 L402.8,298.0" fill="none" stroke="#444" stroke-width="0.55" clip-path="url(#he2)"/>
<path d="M311.8,276.8 H357.8 V296.5 H341.2 V288.7 H311.8 Z" fill="none" stroke="#111" stroke-width="0.90" />
<path d="M326.2,276.8 H334.4 V283.4 H326.2 Z M342,276.8 H350.3 V283.4 H342 Z" fill="#fff" stroke="#111" stroke-width="1.20" />
<path d="M328.3,283.2 H332.4 V285.6 H328.3 Z M344.8,283.2 H347.6 V295.3 H344.8 Z" fill="#fff" stroke="#111" stroke-width="0.80" />
<path d="M326.2,280.6 H334.4 M342,280.6 H350.3" fill="none" stroke="#111" stroke-width="0.70" />
<path d="M309.5,291.5 H340.5 V299.3 H309.5 Z" fill="#fff" stroke="#111" stroke-width="0.90" />
<path d="M309.5,291.5 L340.5,299.3 M309.5,299.3 L340.5,291.5" fill="none" stroke="#555" stroke-width="0.50" />
<path d="M295.7,288.7 H330 M341.2,296.5 H357.8" fill="none" stroke="#111" stroke-width="0.80" />
<path d="M243.5,230.5 H277.6 M283.3,230.5 H330.4 V279" fill="none" stroke="#111" stroke-width="1.00" />
<path d="M278.1,224.5 V236.8 M282.8,224.5 V236.8" fill="none" stroke="#111" stroke-width="1.10" />
<path d="M330.4,254.5 l-1.2,-5 h2.4 z" fill="#111" stroke="#111" stroke-width="0.50" />
</g>
<g transform="matrix(0.9967,0,0,1.2069,1.90,551.16)" stroke-linejoin="round" stroke-linecap="butt">
<path d="M176,307.4 H486" fill="none" stroke="#777" stroke-width="0.50" stroke-dasharray="9 2 2 2"/>
<path d="M239,203.5 V381" fill="none" stroke="#777" stroke-width="0.50" stroke-dasharray="9 2 2 2"/>
<path d="M203.5,208.5 H274.5 V218.2 H203.5 Z M209.8,208.5 Q210.4,206.3 212.6,206 H265.4 Q267.6,206.3 268.2,208.5" fill="none" stroke="#111" stroke-width="1.20" />
<path d="M217,218.2 C217.8,226 218.6,232 219.6,236 C221,241.5 223,245 227,248 M261.7,218.2 C260.9,226 260.1,232 259.1,236 C257.7,241.5 255.7,245 251.7,248" fill="none" stroke="#111" stroke-width="1.20" />
<path d="M234.2,218.2 V225.2 C231.6,227.3 231.8,233.5 236.3,235.4 V246.6 M243.7,218.2 V225.2 C246.3,227.3 246.1,233.5 241.6,235.4 V246.6" fill="none" stroke="#111" stroke-width="1.20" />
<circle cx="238.9" cy="230.3" r="2.3" fill="none" stroke="#222" stroke-width="0.8"/><circle cx="238.9" cy="230.3" r="0.6" fill="#222"/>
<path d="M231.5,230.3 H247.5" fill="none" stroke="#666" stroke-width="0.50" />
<path d="M223.4,253.2 V368.5 Q223.4,377.3 233,377.3 H245 Q254.5,377.3 254.5,368.5 V253.2 Q254.5,249.2 250,248 Q239,244.3 228,248 Q223.4,249.2 223.4,253.2 Z" fill="none" stroke="#111" stroke-width="1.20" />
<path d="M183.5,255.7 H195.6 V358.8 H183.5 Z" fill="none" stroke="#111" stroke-width="1.20" />
<path d="M183.5,271.5 H181.2 V343 H183.5 M182.4,273 V341.5" fill="none" stroke="#111" stroke-width="0.80" />
<path d="M195.6,273.6 H209.4 L214.9,272.2 L223.4,261.2 M195.6,277 L204.6,278.7 L209.6,274 M201.8,278.2 V336.5" fill="none" stroke="#111" stroke-width="1.00" />
<path d="M195.6,337.5 L201.8,336.5 L207.3,338.8 L214.9,343.6 L223.4,354" fill="none" stroke="#111" stroke-width="1.00" />
<path d="M223.4,363.6 H218.7 V377.3 H233" fill="none" stroke="#111" stroke-width="1.00" />
<path d="M253.5,246.8 L256.8,240 H265.3 M254.5,366.3 H266.9" fill="none" stroke="#111" stroke-width="1.00" />
<path d="M265.6,241.5 V248.2" fill="none" stroke="#111" stroke-width="1.60" />
<path d="M266.9,240.6 H274.5 V373.9 H266.9 Z" fill="none" stroke="#111" stroke-width="1.20" />
<circle cx="353.5" cy="247" r="6.5" fill="#fff" stroke="#111" stroke-width="1.2"/>
<circle cx="353.5" cy="247" r="3.5" fill="none" stroke="#111" stroke-width="1.0"/>
<path d="M346.5,247 H360.5 M353.5,240 V254" fill="none" stroke="#888" stroke-width="0.40" />
<path d="M348.9,253.1 H358.7 V259 H348.9 Z" fill="#fff" stroke="none" stroke-width="0.00" />
<path d="M274.5,259.2 H348.9 V253.1 H358.7 V261.5 L360.3,261.3 L362,255.4 H370.2 L370.8,262.8 H422.6 L434,266 L437.2,274.1 H442.9" fill="none" stroke="#111" stroke-width="1.20" />
<path d="M362.3,255.6 H370 V258 H362.3 Z" fill="#333" stroke="#111" stroke-width="0.60" />
<path d="M422.6,262.7 L411.2,264.4 L412,269.2 L436.4,274.1" fill="none" stroke="#111" stroke-width="1.00" />
<path d="M442.9,271.7 H447.7 V344 H442.9 Z" fill="none" stroke="#111" stroke-width="1.20" />
<path d="M448.6,273.3 H451 V279.8 H448.6" fill="none" stroke="#111" stroke-width="0.90" />
<path d="M447.7,280.6 L454.2,288.7 V326.1 L447.7,332.6" fill="none" stroke="#111" stroke-width="1.20" />
<path d="M454.2,289.6 H458.8 V325.3 H454.2" fill="none" stroke="#111" stroke-width="1.20" />
<path d="M458.8,300.4 H482.7 V314.4 H458.8 Z" fill="none" stroke="#111" stroke-width="1.20" />
<path d="M458.8,300.4 H461.6 V314.4 H458.8 Z" fill="#666" stroke="#111" stroke-width="0.50" />
<path d="M464,305 H481 V309.9 H464 Z" fill="#ddd" stroke="#111" stroke-width="0.90" />
<path d="M371,365 L372.2,351.3 L428.2,342 L431.5,344.8 L433.1,361.9 L436,364.3 H440.4 M372.2,352.3 H431.8" fill="none" stroke="#111" stroke-width="1.20" />
<path d="M356.5,364.6 H371 V369.5 H356.5 Z M361,364.6 V369.5 M366.3,364.6 V369.5" fill="none" stroke="#111" stroke-width="0.90" />
<path d="M442.9,341 L440.4,343.5 V380 H468.9 L469.7,376.8 H449.6 Q444.8,376.8 444.8,371.5 V344" fill="none" stroke="#111" stroke-width="1.20" />
<path d="M445.3,350.5 H449.4 V361 H445.3" fill="none" stroke="#111" stroke-width="0.90" />
<path d="M456.7,371.5 V386 M452.5,376.8 V380 M460.9,376.8 V380" fill="none" stroke="#666" stroke-width="0.50" />
<path d="M311.8,268.5 H363.5 Q367.5,268.5 367.5,272.5 V343.5 Q367.5,347.5 363.5,347.5 H311.8" fill="none" stroke="#111" stroke-width="1.20" />
<path d="M311.8,276.8 H359.9 V338.5 H311.8" fill="none" stroke="#111" stroke-width="1.00" />
<path d="M311.8,268.5 V276.8 M311.8,307.4 V351 L309,351.6 L308,353 V358.5" fill="none" stroke="#111" stroke-width="1.00" />
<path d="M359.9,315.3 H367.5" fill="none" stroke="#111" stroke-width="1.00" />
<path d="M274.5,358.5 H336.5 Q337,355 339.5,355 H354 Q356.5,355 356.5,357.5 V364.6 M371,364.6 V353.5 Q371.3,351.5 374.5,350.9" fill="none" stroke="#111" stroke-width="1.00" />
<path d="M316.2,358.5 V375 H325.5 V358.5 M316.2,371.6 H325.5" fill="none" stroke="#111" stroke-width="0.90" />
<path d="M282.2,299.5 H367.5" fill="none" stroke="#111" stroke-width="1.40" />
<path d="M282.9,295.3 H359.9 M282.2,295.3 V307.4" fill="none" stroke="#111" stroke-width="1.00" />
<path d="M387.6,291.6 H404.5 Q408.5,291.6 408.5,295.6 V317 H383.2 V295.6 Q383.2,291.6 387.6,291.6 Z" fill="none" stroke="#999" stroke-width="0.60" stroke-dasharray="4 1"/>
<path d="M372,308 V326 Q372.5,328 374.5,329.5 L391.5,340 Q393,340.8 395,340.6 L399,340.2 L402.5,336 V319.5 H432.5 V317.5 H409 M428.5,308 V317.5 M395.3,329 V338.5 M389.5,333.5 H400 M381,326 V334 M383.2,317 V318.5 H402.5 M390,318.5 V328 M400.5,318.5 V328" fill="none" stroke="#999" stroke-width="0.60" />
<path d="M371.5,307.6 H441" fill="none" stroke="#aaa" stroke-width="1.00" />
<circle cx="381" cy="324" r="3.2" fill="none" stroke="#444" stroke-width="1.5"/>
<circle cx="381" cy="324" r="1.2" fill="none" stroke="#555" stroke-width="0.6"/>
<circle cx="395.2" cy="327" r="2.7" fill="none" stroke="#666" stroke-width="0.7"/>
<path d="M219.7,326 L197,386.3 H176.4 M273.2,329.2 L281.5,386.6 H306.3 M321.1,326.2 L332.4,386.6 H367.5" fill="none" stroke="#111" stroke-width="1.20" />
<circle cx="219.7" cy="326" r="0.9" fill="#111"/><circle cx="273.2" cy="329.2" r="0.9" fill="#111"/><circle cx="321.1" cy="326.2" r="0.9" fill="#111"/>
<text class="lb" transform="translate(179,384.2) skewX(-9)" textLength="18.8" lengthAdjust="spacingAndGlyphs">泵体</text>
<text class="lb" transform="translate(286.3,384.4) skewX(-9)" textLength="18.8" lengthAdjust="spacingAndGlyphs">泵盖</text>
<text class="lb" transform="translate(334.4,384.4) skewX(-9)" textLength="36.6" lengthAdjust="spacingAndGlyphs">机封压盖</text>
<clipPath id="hc3"><path d="M281.9,295.8 Q282.3,284 290,271 Q298,261.5 307.3,259.5 L309.5,259.2 L310.9,263 V288.7 H295.7 V291.5 H288.2 V295.8 Z"/></clipPath>
<path d="M241.0,297.0 L280.0,258.0 M245.4,297.0 L284.4,258.0 M249.8,297.0 L288.8,258.0 M254.2,297.0 L293.2,258.0 M258.6,297.0 L297.6,258.0 M263.0,297.0 L302.0,258.0 M267.4,297.0 L306.4,258.0 M271.8,297.0 L310.8,258.0 M276.2,297.0 L315.2,258.0 M280.6,297.0 L319.6,258.0 M285.0,297.0 L324.0,258.0 M289.4,297.0 L328.4,258.0 M293.8,297.0 L332.8,258.0 M298.2,297.0 L337.2,258.0 M302.6,297.0 L341.6,258.0 M307.0,297.0 L346.0,258.0 M311.4,297.0 L350.4,258.0 M315.8,297.0 L354.8,258.0 M320.2,297.0 L359.2,258.0 M324.6,297.0 L363.6,258.0 M329.0,297.0 L368.0,258.0 M333.4,297.0 L372.4,258.0 M337.8,297.0 L376.8,258.0 M342.2,297.0 L381.2,258.0 M346.6,297.0 L385.6,258.0 M351.0,297.0 L390.0,258.0" fill="none" stroke="#444" stroke-width="0.55" clip-path="url(#hc3)"/>
<path d="M281.9,295.8 Q282.3,284 290,271 Q298,261.5 307.3,259.5 L309.5,259.2 L310.9,263 V288.7 H295.7 V291.5 H288.2 V295.8 Z" fill="none" stroke="#111" stroke-width="0.90" />
<clipPath id="hd3"><path d="M307.3,259.5 H345 Q351.5,262 357,268.4 H310.9 V263 L309.5,259.2 Z"/></clipPath>
<path d="M294.0,258.0 L306.0,270.0 M298.4,258.0 L310.4,270.0 M302.8,258.0 L314.8,270.0 M307.2,258.0 L319.2,270.0 M311.6,258.0 L323.6,270.0 M316.0,258.0 L328.0,270.0 M320.4,258.0 L332.4,270.0 M324.8,258.0 L336.8,270.0 M329.2,258.0 L341.2,270.0 M333.6,258.0 L345.6,270.0 M338.0,258.0 L350.0,270.0 M342.4,258.0 L354.4,270.0 M346.8,258.0 L358.8,270.0 M351.2,258.0 L363.2,270.0 M355.6,258.0 L367.6,270.0 M360.0,258.0 L372.0,270.0 M364.4,258.0 L376.4,270.0 M368.8,258.0 L380.8,270.0" fill="none" stroke="#444" stroke-width="0.55" clip-path="url(#hd3)"/>
<path d="M307.3,259.5 H345 Q351.5,262 357,268.4 H310.9 V263 L309.5,259.2 Z" fill="none" stroke="#111" stroke-width="0.90" />
<clipPath id="he3"><path d="M311.8,276.8 H357.8 V296.5 H341.2 V288.7 H311.8 Z"/></clipPath>
<path d="M288.0,276.0 L310.0,298.0 M291.2,276.0 L313.2,298.0 M294.4,276.0 L316.4,298.0 M297.6,276.0 L319.6,298.0 M300.8,276.0 L322.8,298.0 M304.0,276.0 L326.0,298.0 M307.2,276.0 L329.2,298.0 M310.4,276.0 L332.4,298.0 M313.6,276.0 L335.6,298.0 M316.8,276.0 L338.8,298.0 M320.0,276.0 L342.0,298.0 M323.2,276.0 L345.2,298.0 M326.4,276.0 L348.4,298.0 M329.6,276.0 L351.6,298.0 M332.8,276.0 L354.8,298.0 M336.0,276.0 L358.0,298.0 M339.2,276.0 L361.2,298.0 M342.4,276.0 L364.4,298.0 M345.6,276.0 L367.6,298.0 M348.8,276.0 L370.8,298.0 M352.0,276.0 L374.0,298.0 M355.2,276.0 L377.2,298.0 M358.4,276.0 L380.4,298.0 M361.6,276.0 L383.6,298.0 M364.8,276.0 L386.8,298.0 M368.0,276.0 L390.0,298.0 M371.2,276.0 L393.2,298.0 M374.4,276.0 L396.4,298.0 M377.6,276.0 L399.6,298.0 M380.8,276.0 L402.8,298.0" fill="none" stroke="#444" stroke-width="0.55" clip-path="url(#he3)"/>
<path d="M311.8,276.8 H357.8 V296.5 H341.2 V288.7 H311.8 Z" fill="none" stroke="#111" stroke-width="0.90" />
<path d="M326.2,276.8 H334.4 V283.4 H326.2 Z M342,276.8 H350.3 V283.4 H342 Z" fill="#fff" stroke="#111" stroke-width="1.20" />
<path d="M328.3,283.2 H332.4 V285.6 H328.3 Z M344.8,283.2 H347.6 V295.3 H344.8 Z" fill="#fff" stroke="#111" stroke-width="0.80" />
<path d="M326.2,280.6 H334.4 M342,280.6 H350.3" fill="none" stroke="#111" stroke-width="0.70" />
<path d="M309.5,291.5 H340.5 V299.3 H309.5 Z" fill="#fff" stroke="#111" stroke-width="0.90" />
<path d="M309.5,291.5 L340.5,299.3 M309.5,299.3 L340.5,291.5" fill="none" stroke="#555" stroke-width="0.50" />
<path d="M295.7,288.7 H330 M341.2,296.5 H357.8" fill="none" stroke="#111" stroke-width="0.80" />
<path d="M243.5,230 H330.2 V279.5" fill="none" stroke="#111" stroke-width="1.00" />
<path d="M272.1,224.4 V235.8 M272.1,230 L286.9,238.2 M285,235.2 L289,241.7" fill="none" stroke="#111" stroke-width="0.90" />
<path d="M293.5,224.4 V235.8 M306.6,224.4 V235.8 M311.3,224.4 V235.8" fill="none" stroke="#111" stroke-width="0.90" />
<path d="M307.3,230 H310.6" fill="none" stroke="#fff" stroke-width="1.80" />
<path d="M330.2,253 l-1.2,-4.5 h2.4 z" fill="#111" stroke="#111" stroke-width="0.50" />
</g>
</svg>
</body></html>
